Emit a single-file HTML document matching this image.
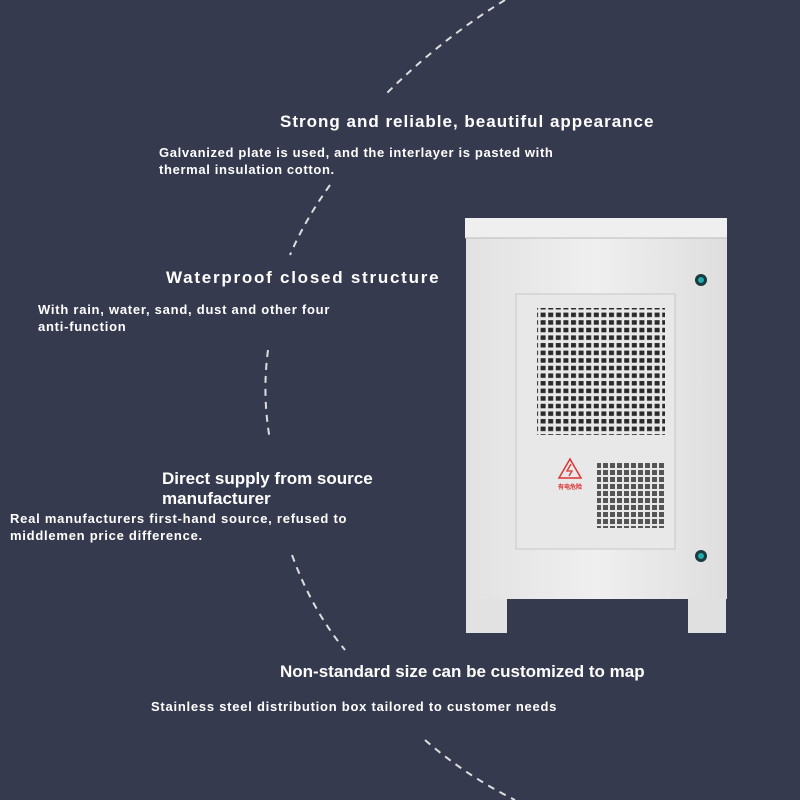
<!DOCTYPE html>
<html><head><style>
body{margin:0;width:800px;height:800px;background:#363a4f;position:relative;overflow:hidden;font-family:"Liberation Sans",sans-serif;color:#fff;font-weight:bold}
.t{position:absolute;font-size:17px;letter-spacing:1px;white-space:nowrap}
.b{position:absolute;font-size:13px;letter-spacing:0.75px;line-height:17px;white-space:nowrap}
</style></head><body>
<svg width="800" height="800" style="position:absolute;left:0;top:0">
<g fill="none" stroke="#ddd" stroke-width="2" stroke-dasharray="7 6">
<path d="M505 0 Q440 40 385 95"/>
<path d="M330 185 Q305 220 290 255"/>
<path d="M268 350 Q262 395 270 440"/>
<path d="M292 555 Q312 610 345 650"/>
<path d="M425 740 Q465 775 515 800"/>
</g>
<defs>
<pattern id="p" width="7.6" height="7.6" patternUnits="userSpaceOnUse"><rect x="1" y="1" width="5" height="4.5" fill="#2a2a2a"/></pattern>
<pattern id="q" width="7" height="7" patternUnits="userSpaceOnUse"><rect x="1" y="1" width="5" height="5" fill="#555"/></pattern>
<linearGradient id="bd" x1="0" x2="1"><stop offset="0" stop-color="#e2e2e2"/><stop offset=".5" stop-color="#efefef"/><stop offset="1" stop-color="#dedede"/></linearGradient>
</defs>
<rect x="466" y="596" width="41" height="37" fill="#e2e2e2"/>
<rect x="688" y="596" width="38" height="37" fill="#e0e0e0"/>
<rect x="466" y="237" width="261" height="362" fill="url(#bd)"/>
<rect x="465" y="218" width="262" height="20" fill="#efefef"/>
<line x1="465" y1="238" x2="727" y2="238" stroke="#bbb"/>
<rect x="516" y="294" width="159" height="255" fill="#e8e8e8" stroke="#c8c8c8"/>
<rect x="537" y="308" width="128" height="127" fill="url(#p)"/>
<rect x="597" y="462" width="68" height="66" fill="url(#q)"/>
<path d="M570 459 L559 478 L581 478 Z" fill="none" stroke="#d33" stroke-width="1.5"/>
<path d="M571 464 L567 471 L572 471 L569 476" fill="none" stroke="#d33" stroke-width="1.3"/>
<text x="570" y="489" font-size="6" fill="#d33" text-anchor="middle">有电危险</text>
<circle cx="701" cy="280" r="6" fill="#1a3a40"/><circle cx="701" cy="280" r="3" fill="#2aa"/>
<circle cx="701" cy="556" r="6" fill="#1a3a40"/><circle cx="701" cy="556" r="3" fill="#2aa"/>
</svg>
<div class="t" style="left:280px;top:112px">Strong and reliable, beautiful appearance</div>
<div class="b" style="left:159px;top:144px;letter-spacing:0.65px">Galvanized plate is used, and the interlayer is pasted with<br>thermal insulation cotton.</div>
<div class="t" style="left:166px;top:268px;letter-spacing:1.75px">Waterproof closed structure</div>
<div class="b" style="left:38px;top:301px">With rain, water, sand, dust and other four<br>anti-function</div>
<div class="t" style="left:162px;top:469px;line-height:20px;letter-spacing:0">Direct supply from source<br>manufacturer</div>
<div class="b" style="left:10px;top:510px">Real manufacturers first-hand source, refused to<br>middlemen price difference.</div>
<div class="t" style="left:280px;top:662px;letter-spacing:0">Non-standard size can be customized to map</div>
<div class="b" style="left:151px;top:698px">Stainless steel distribution box tailored to customer needs</div>
</body></html>
